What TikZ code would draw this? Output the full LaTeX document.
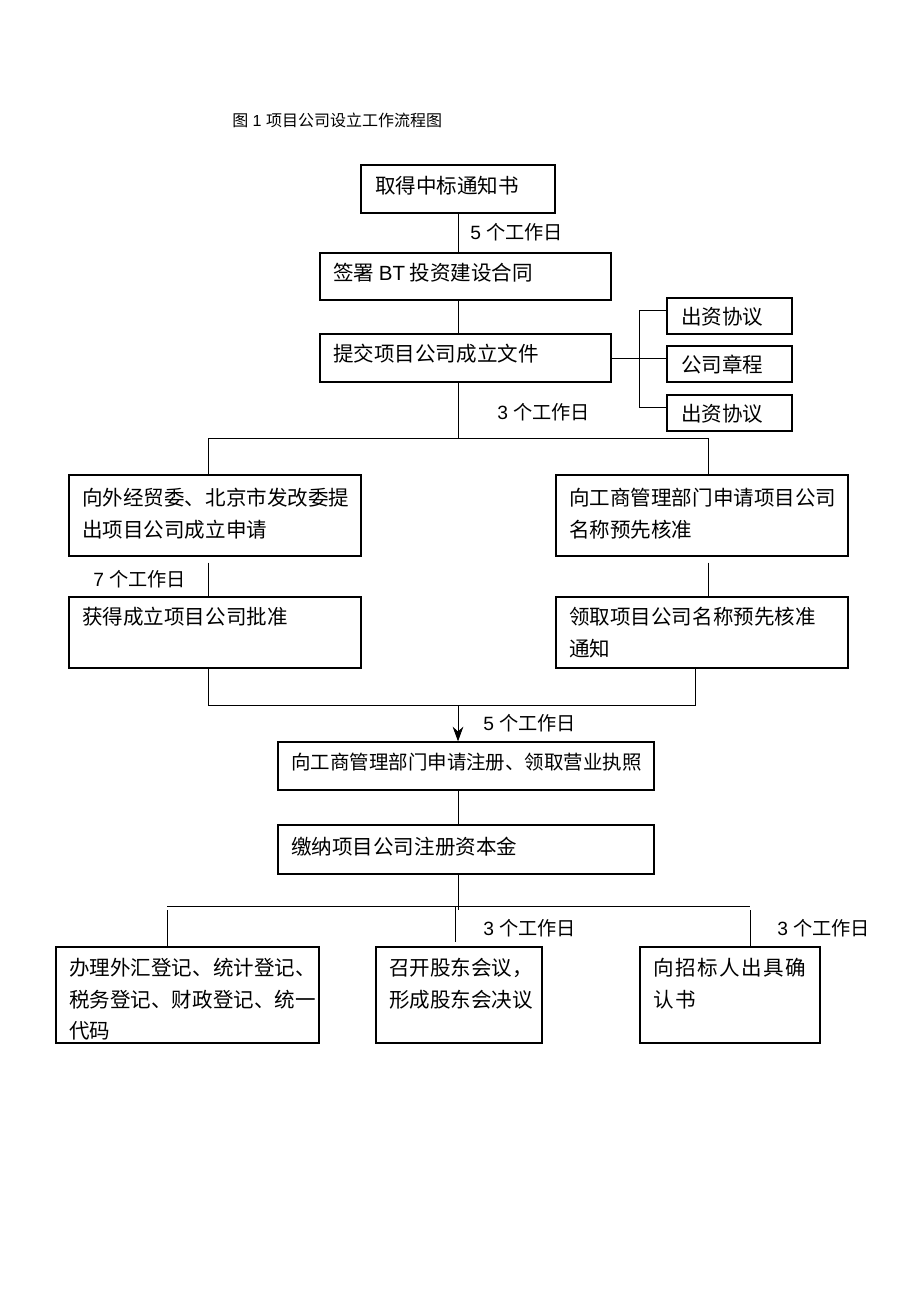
\documentclass[tikz,border=0pt]{standalone}
\usepackage{fontspec}
\setmainfont{Liberation Sans}
\newfontfamily\cjk{Noto Sans CJK SC}
\newfontfamily\cjkw[LetterSpace=7]{Noto Sans CJK SC}
\usetikzlibrary{fit,arrows.meta}
\begin{document}
\begin{tikzpicture}[x=0.75pt,y=-0.75pt,
  box/.style={draw, line width=0.95pt, inner sep=0pt},
  ln/.style={line width=0.7pt},
  txt/.style={inner sep=0pt, anchor=base west, font=\cjk\fontsize{15.4}{15.4}\selectfont},
  txtn/.style={inner sep=0pt, anchor=base west, font=\cjk\fontsize{14.6}{14.6}\selectfont},
  txtw/.style={inner sep=0pt, anchor=base west, font=\cjkw\fontsize{15.4}{15.4}\selectfont},
  lab/.style={inner sep=0pt, anchor=base west, font=\fontsize{14.4}{14.4}\selectfont},
  ttl/.style={inner sep=0pt, anchor=base west, font=\fontsize{12}{12}\selectfont}]
\fill[white] (0,0) rectangle (920,1302);
\useasboundingbox (0,0) rectangle (920,1302);

% title
\node[ttl] (title) at (232,127) {{\cjk 图} 1 {\cjk 项目公司设立工作流程图}};

% boxes
\node[box, fit={(361,165)(555,213)}] (b1) {};
\node[box, fit={(320,253)(611,300)}] (b2) {};
\node[box, fit={(320,334)(611,382)}] (b3) {};
\node[box, fit={(667,298)(792,334)}] (s1) {};
\node[box, fit={(667,346)(792,382)}] (s2) {};
\node[box, fit={(667,395)(792,431)}] (s3) {};
\node[box, fit={(69,475)(361,556)}] (b4) {};
\node[box, fit={(556,475)(848,556)}] (b5) {};
\node[box, fit={(69,597)(361,668)}] (b6) {};
\node[box, fit={(556,597)(848,668)}] (b7) {};
\node[box, fit={(278,742)(654,790)}] (b8) {};
\node[box, fit={(278,825)(654,874)}] (b9) {};
\node[box, fit={(56,947)(319,1043)}] (b10) {};
\node[box, fit={(376,947)(542,1043)}] (b11) {};
\node[box, fit={(640,947)(820,1043)}] (b12) {};

% texts
\node[txt] (t1) at (375,193) {取得中标通知书};
\node[txt] (t2) at (333,280) {签署 {\rmfamily BT} 投资建设合同};
\node[txt] (t3) at (333,361) {提交项目公司成立文件};
\node[txt] (ts1) at (681,324) {出资协议};
\node[txt] (ts2) at (681,372) {公司章程};
\node[txt] (ts3) at (681,421) {出资协议};
\node[txt] (t4a) at (82,505) {向外经贸委、北京市发改委提};
\node[txt] (t4b) at (82,537) {出项目公司成立申请};
\node[txt] (t5a) at (569,505) {向工商管理部门申请项目公司};
\node[txt] (t5b) at (569,537) {名称预先核准};
\node[txt] (t6) at (82,624) {获得成立项目公司批准};
\node[txt] (t7a) at (569,624) {领取项目公司名称预先核准};
\node[txt] (t7b) at (569,656) {通知};
\node[txtn] (t8) at (291,769) {向工商管理部门申请注册、领取营业执照};
\node[txt] (t9) at (291,854) {缴纳项目公司注册资本金};
\node[txt] (t10a) at (69,975) {办理外汇登记、统计登记、};
\node[txt] (t10b) at (69,1007) {税务登记、财政登记、统一};
\node[txt] (t10c) at (69,1038) {代码};
\node[txt] (t11a) at (389,975) {召开股东会议，};
\node[txt] (t11b) at (389,1007) {形成股东会决议};
\node[txtw] (t12a) at (653,975) {向招标人出具确};
\node[txtw] (t12b) at (653,1007) {认书};

% labels
\node[lab] (l1) at (470,239.5) {5 {\cjk 个工作日}};
\node[lab] (l2) at (497,419.5) {3 {\cjk 个工作日}};
\node[lab] (l3) at (93,586.5) {7 {\cjk 个工作日}};
\node[lab] (l4) at (483,730.5) {5 {\cjk 个工作日}};
\node[lab] (l5) at (483,935.5) {3 {\cjk 个工作日}};
\node[lab] (l6) at (777,935.5) {3 {\cjk 个工作日}};

% coordinates
\coordinate (c) at (458,0);
\coordinate (jL) at (208,438);
\coordinate (jM) at (458,438);
\coordinate (jR) at (708,438);
\coordinate (kL) at (208,705);
\coordinate (kM) at (458,705);
\coordinate (kR) at (695,705);
\coordinate (mL) at (167,906);
\coordinate (mM) at (458,906);
\coordinate (mM2) at (455,906);
\coordinate (mR) at (750,906);
\coordinate (bk1) at (639,310);
\coordinate (bk2) at (639,407);

% connectors
\draw[ln] (b1.south -| c) -- (b2.north -| c);
\draw[ln] (b2.south -| c) -- (b3.north -| c);
\draw[ln] (b3.south -| c) -- (jM);
\draw[ln] (jL |- b4.north) -- (jL) -- (jR) -- (jR |- b5.north);
\draw[ln] (b3.east) -- (b3.east -| s2.west);
\draw[ln] (bk1 -| s1.west) -- (bk1) -- (bk2) -- (bk2 -| s3.west);
\draw[ln] ([yshift=-4.5]b4.south -| jL) -- (b6.north -| jL);
\draw[ln] ([yshift=-4.5]b5.south -| jR) -- (b7.north -| jR);
\draw[ln] (b6.south -| kL) -- (kL) -- (kR) -- (b7.south -| kR);
\draw[ln, -{Stealth[length=11pt,width=8pt]}] (kM) -- (b8.north -| kM);
\draw[ln] (b8.south -| c) -- (b9.north -| c);
\draw[ln] (b9.south -| c) -- ([yshift=-3]mM);
\draw[ln] (mL) -- (mR);
\draw[ln] ([yshift=-3]mL) -- (b10.north -| mL);
\draw[ln] (mM2) -- ([yshift=3]b11.north -| mM2);
\draw[ln] ([yshift=-3]mR) -- (b12.north -| mR);
\end{tikzpicture}
\end{document}
